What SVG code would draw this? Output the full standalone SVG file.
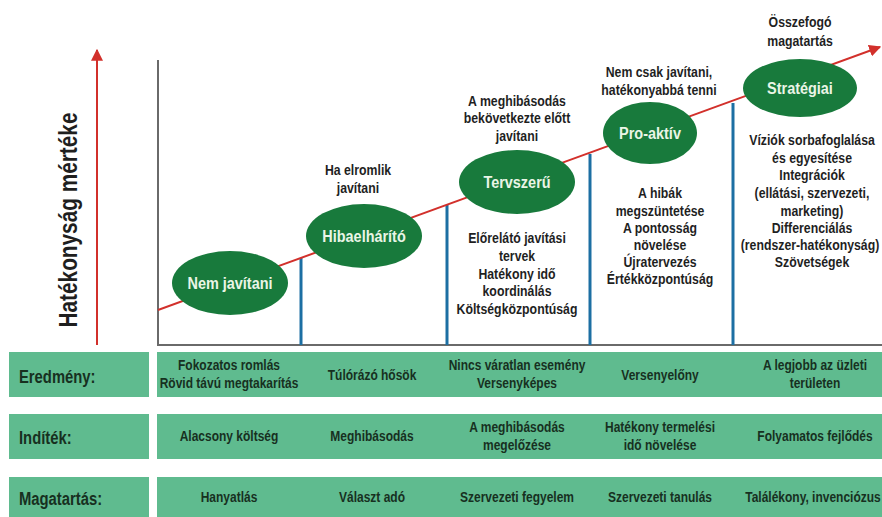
<svg xmlns="http://www.w3.org/2000/svg" width="882" height="517" viewBox="0 0 882 517">
  <style>
    text { font-family: "Liberation Sans", Arial, sans-serif; font-weight: bold; }
    .t, .nt, .bt, .lt { transform-box: fill-box; }
    .t { fill: #1f1f1f; text-anchor: middle; font-size: 15px; transform-origin: center; transform: scaleX(0.82); }
    .node { fill: #187a3c; }
    .nt { fill: #eaf5e6; text-anchor: middle; font-size: 17px; transform-origin: center; transform: scaleX(0.85); }
    .bar { fill: #5fbb8f; }
    .bt { fill: #17301f; text-anchor: middle; font-size: 15px; transform-origin: center; transform: scaleX(0.8); }
    .lt { fill: #17301f; font-size: 19px; transform-origin: left center; transform: scaleX(0.78); }
    .axis { stroke: #6a6a6a; stroke-width: 2; fill: none; }
    .step { stroke: #1c6fa3; stroke-width: 3; }
    .trend { stroke: #d2302b; stroke-width: 2; fill: none; }
    .ylabel { fill: #1f1f1f; font-size: 26px; text-anchor: middle; }
  </style>
  <defs>
    <marker id="arrowRed" viewBox="0 0 10 10" refX="9" refY="5" markerWidth="12" markerHeight="12" orient="auto" markerUnits="userSpaceOnUse">
      <path d="M0,0 L10,5 L0,10 z" fill="#d2302b"/>
    </marker>
  </defs>

  <!-- vertical axis label and arrow -->
  <g id="y-axis">
    <line class="trend" x1="97" y1="345" x2="97" y2="50" marker-end="url(#arrowRed)"/>
    <text class="ylabel" transform="translate(77,220) rotate(-90) scale(0.8,1)">Hatékonyság mértéke</text>
  </g>

  <!-- chart frame, step separators and rising trend -->
  <g id="connectors">
    <polyline class="axis" points="158,60 158,345 882,345"/>
    <line class="step" x1="301" y1="258" x2="301" y2="345"/>
    <line class="step" x1="447" y1="205" x2="447" y2="345"/>
    <line class="step" x1="590" y1="154" x2="590" y2="345"/>
    <line class="step" x1="733" y1="103" x2="733" y2="345"/>
    <line class="trend" x1="158" y1="310" x2="880" y2="47" marker-end="url(#arrowRed)"/>
  </g>

  <!-- stages -->
  <g id="nem-javitani">
    <ellipse class="node" cx="230" cy="283" rx="58" ry="32"/>
    <text class="nt" x="230" y="289">Nem javítani</text>
  </g>

  <g id="hibaelharito">
    <text class="t" x="358" y="175">Ha elromlik</text>
    <text class="t" x="358" y="193">javítani</text>
    <ellipse class="node" cx="364" cy="236" rx="58" ry="32"/>
    <text class="nt" x="364" y="242">Hibaelhárító</text>
  </g>

  <g id="tervszeru">
    <text class="t" x="517" y="106">A meghibásodás</text>
    <text class="t" x="517" y="123">bekövetkezte előtt</text>
    <text class="t" x="517" y="141">javítani</text>
    <ellipse class="node" cx="517" cy="182" rx="58" ry="32"/>
    <text class="nt" x="517" y="188">Tervszerű</text>
    <text class="t" x="517" y="243">Előrelátó javítási</text>
    <text class="t" x="517" y="261">tervek</text>
    <text class="t" x="517" y="279">Hatékony idő</text>
    <text class="t" x="517" y="296">koordinálás</text>
    <text class="t" x="517" y="314">Költségközpontúság</text>
  </g>

  <g id="pro-aktiv">
    <text class="t" x="659" y="77">Nem csak javítani,</text>
    <text class="t" x="659" y="95">hatékonyabbá tenni</text>
    <ellipse class="node" cx="650" cy="133" rx="47" ry="31"/>
    <text class="nt" x="650" y="139">Pro-aktív</text>
    <text class="t" x="660" y="198">A hibák</text>
    <text class="t" x="660" y="216">megszüntetése</text>
    <text class="t" x="660" y="233">A pontosság</text>
    <text class="t" x="660" y="250">növelése</text>
    <text class="t" x="660" y="267">Újratervezés</text>
    <text class="t" x="660" y="284">Értékközpontúság</text>
  </g>

  <g id="strategiai">
    <text class="t" x="800" y="27">Összefogó</text>
    <text class="t" x="800" y="46">magatartás</text>
    <ellipse class="node" cx="800" cy="88" rx="57" ry="29"/>
    <text class="nt" x="800" y="94">Stratégiai</text>
    <text class="t" x="812" y="145">Víziók sorbafoglalása</text>
    <text class="t" x="812" y="163">és egyesítése</text>
    <text class="t" x="812" y="180">Integrációk</text>
    <text class="t" x="812" y="198">(ellátási, szervezeti,</text>
    <text class="t" x="812" y="216">marketing)</text>
    <text class="t" x="812" y="233">Differenciálás</text>
    <text class="t" x="810" y="250">(rendszer-hatékonyság)</text>
    <text class="t" x="812" y="267">Szövetségek</text>
  </g>

  <!-- summary rows -->
  <g id="row-eredmeny">
    <rect class="bar" x="9" y="352" width="140" height="45"/>
    <rect class="bar" x="157" y="352" width="725" height="45"/>
    <text class="lt" x="19" y="383">Eredmény:</text>
    <text class="bt" x="229" y="370">Fokozatos romlás</text>
    <text class="bt" x="229" y="388">Rövid távú megtakarítás</text>
    <text class="bt" x="372" y="380">Túlórázó hősök</text>
    <text class="bt" x="517" y="370">Nincs váratlan esemény</text>
    <text class="bt" x="517" y="388">Versenyképes</text>
    <text class="bt" x="660" y="380">Versenyelőny</text>
    <text class="bt" x="815" y="370">A legjobb az üzleti</text>
    <text class="bt" x="815" y="388">területen</text>
  </g>

  <g id="row-inditek">
    <rect class="bar" x="9" y="414" width="140" height="45"/>
    <rect class="bar" x="157" y="414" width="725" height="45"/>
    <text class="lt" x="19" y="444">Indíték:</text>
    <text class="bt" x="229" y="441">Alacsony költség</text>
    <text class="bt" x="372" y="441">Meghibásodás</text>
    <text class="bt" x="517" y="432">A meghibásodás</text>
    <text class="bt" x="517" y="450">megelőzése</text>
    <text class="bt" x="660" y="432">Hatékony termelési</text>
    <text class="bt" x="660" y="450">idő növelése</text>
    <text class="bt" x="815" y="441">Folyamatos fejlődés</text>
  </g>

  <g id="row-magatartas">
    <rect class="bar" x="9" y="477" width="140" height="40"/>
    <rect class="bar" x="157" y="477" width="725" height="40"/>
    <text class="lt" x="19" y="505">Magatartás:</text>
    <text class="bt" x="229" y="502">Hanyatlás</text>
    <text class="bt" x="372" y="502">Választ adó</text>
    <text class="bt" x="517" y="502">Szervezeti fegyelem</text>
    <text class="bt" x="660" y="502">Szervezeti tanulás</text>
    <text class="bt" x="813" y="502">Találékony, invenciózus</text>
  </g>
</svg>
